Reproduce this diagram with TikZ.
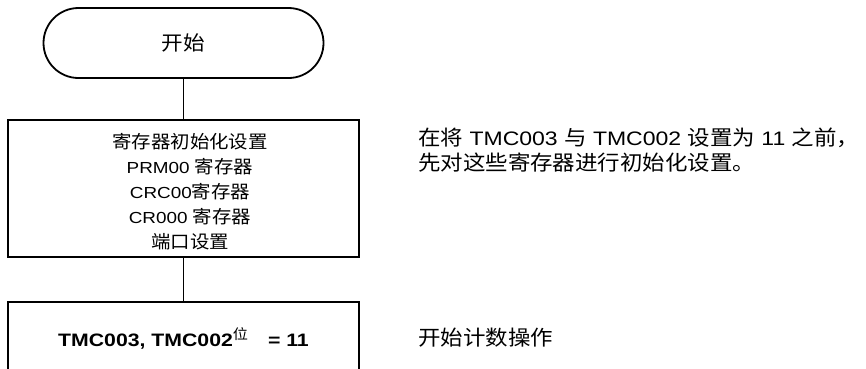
\documentclass[tikz,border=0pt]{standalone}
\usepackage{fontspec}
\setmainfont{Liberation Sans}[FakeStretch=1.18]
\newfontfamily\cjk{Noto Sans CJK SC}[FakeStretch=1.08]
\usetikzlibrary{shapes.misc}
\begin{document}
\begin{tikzpicture}[x=1pt,y=-1pt]
\useasboundingbox (0,0) rectangle (866,368);
\clip (0,0) rectangle (866,368);
\newcommand\bc[1]{{\cjk\fontsize{18}{25}\selectfont #1}}
\newcommand\nc[1]{{\cjk\fontsize{20.8}{24.5}\selectfont #1}}
\tikzset{
  shapeline/.style={draw, line width=1.8pt, inner sep=0pt, outer sep=0pt},
  conn/.style={line width=0.9pt},
  boxtext/.style={font=\fontsize{16}{25}\selectfont, align=center, inner sep=0pt},
  note/.style={font=\fontsize{19.5}{24.5}\selectfont, align=left, anchor=west, inner sep=0pt},
}
\node[shapeline, rounded rectangle, minimum width=280pt, minimum height=70pt,
      font=\fontsize{20}{20}\selectfont] (start) at (183.5,43) {\raisebox{-2pt}{\cjk 开始}};
\node[shapeline, rectangle, minimum width=351pt, minimum height=137pt] (init) at (183.5,188.5) {};
\node[boxtext] (inittext) at (190,192)
  {\bc{寄存器初始化设置}\\
   PRM00 \bc{寄存器}\\
   CRC00\bc{寄存器}\\
   CR000 \bc{寄存器}\\
   \bc{端口设置}};
\node[shapeline, rectangle, minimum width=351pt, minimum height=72pt,
      font=\fontsize{18}{18}\selectfont] (tmc) at (183.5,338)
  {{\bfseries TMC003, TMC002}\raisebox{7pt}{\cjk\fontsize{14}{14}\selectfont 位}\hspace{20pt}{\bfseries = 11}};
\draw[conn] (start.south) -- (init.north);
\draw[conn] (init.south) -- (tmc.north);
\node[note] (note1) at (418,150)
  {\nc{在将} TMC003 \nc{与} TMC002 \nc{设置为} 11 \nc{之前，}\\
   \nc{先对这些寄存器进行初始化设置。}};
\node[note] (note2) at (418,338) {\nc{开始计数操作}};
\end{tikzpicture}
\end{document}
